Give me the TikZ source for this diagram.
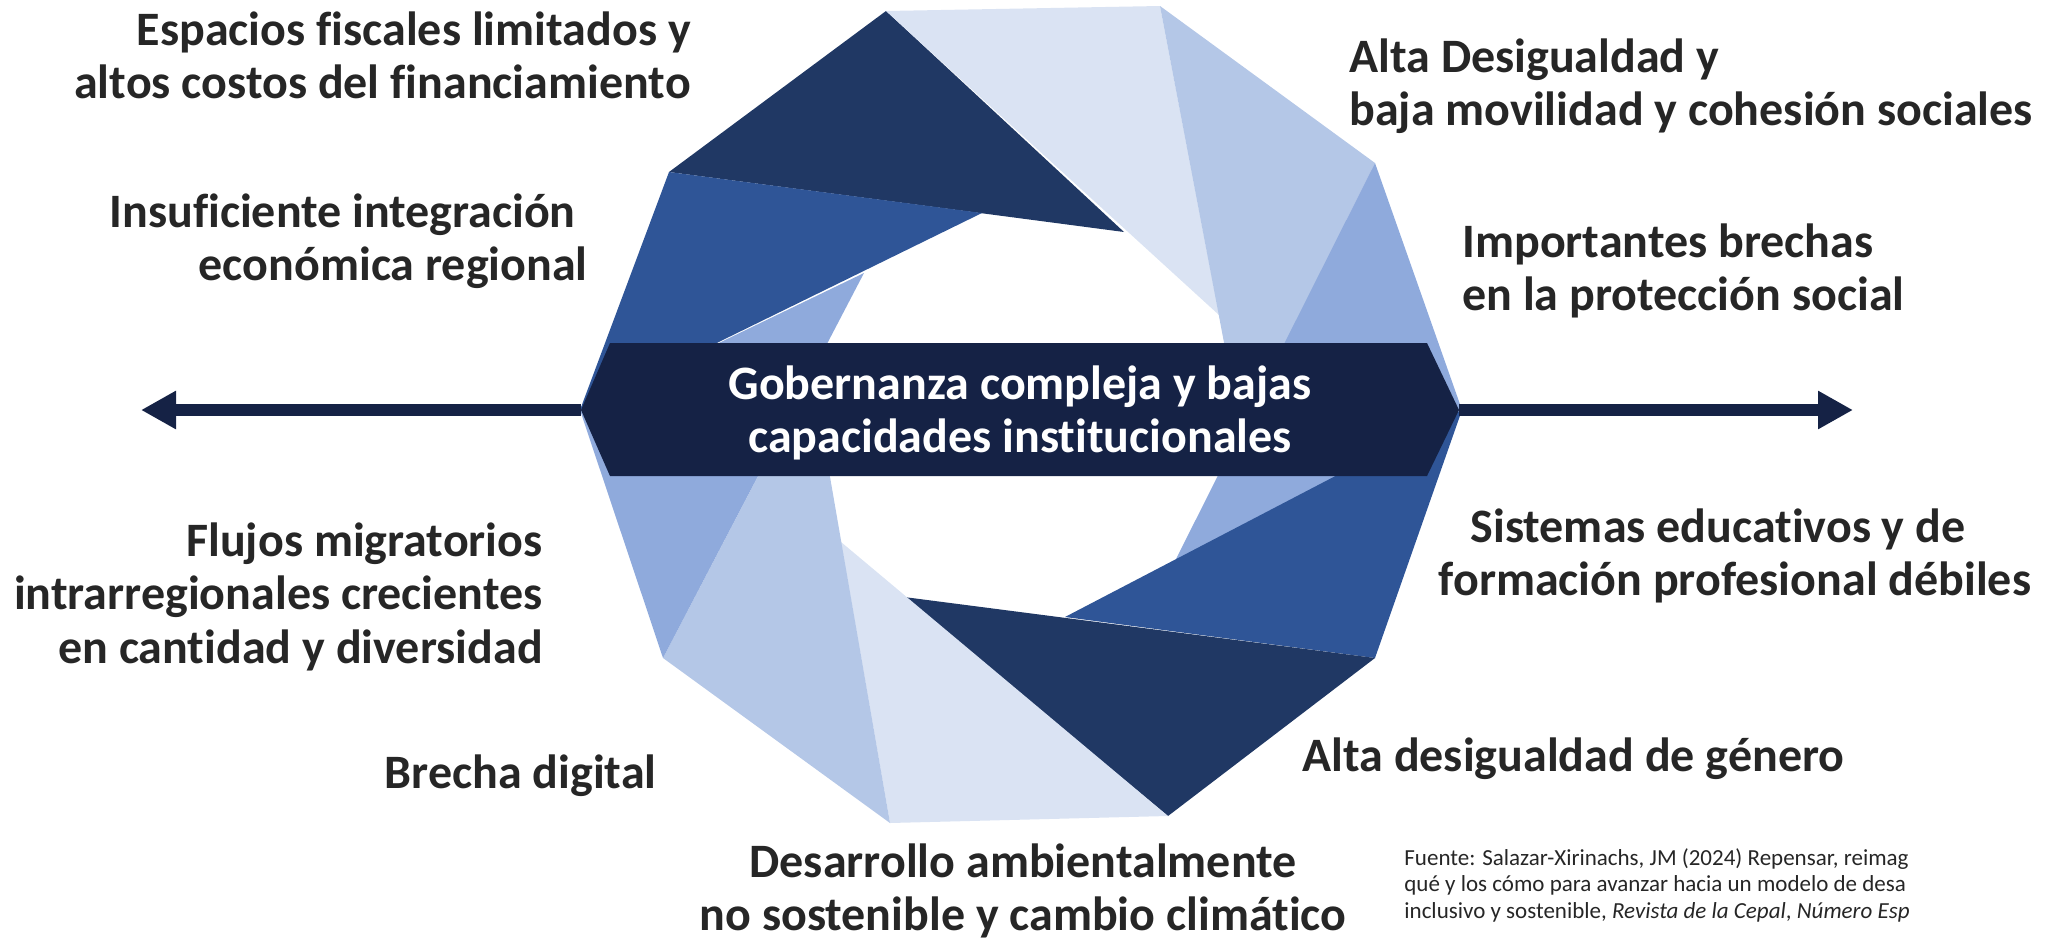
\documentclass[tikz,border=0pt]{standalone}
\usepackage{fontspec}
\setmainfont{Carlito}[Ligatures={CommonOff,ContextualOff}]
\usetikzlibrary{arrows.meta}

\definecolor{navy}{HTML}{152245}
\definecolor{bdark}{HTML}{203864}
\definecolor{bmid}{HTML}{2F5597}
\definecolor{bsoft}{HTML}{8FAADC}
\definecolor{bpale}{HTML}{B4C7E7}
\definecolor{bice}{HTML}{DAE3F3}
\definecolor{ink}{HTML}{262626}

\begin{document}
\begin{tikzpicture}[x=0.5pt,y=-0.5pt,>={Triangle[length=17.5pt,width=18pt]},
  lbl/.style={font=\fontsize{24}{26.75}\selectfont\bfseries,text=ink,inner sep=0pt},
  src/.style={font=\fontsize{11.5}{13.2}\selectfont,text=ink,inner sep=0pt,align=left}]
\clip (0,0) rectangle (2046,943);

% corners of the blades
\coordinate (A) at (886,11);   \coordinate (A2) at (1168,816);
\coordinate (B) at (669,172);  \coordinate (B2) at (1375,658);
\coordinate (D) at (1124,232); \coordinate (D2) at (904,597);
\coordinate (E) at (1160,6);   \coordinate (E2) at (890,823);
\coordinate (F) at (1219,315); \coordinate (F2) at (841,542);
\coordinate (G) at (1375,163); \coordinate (G2) at (663,658);
\coordinate (Z) at (1241,432); \coordinate (Z2) at (812,373);
\coordinate (P) at (1174,563); \coordinate (P2) at (864,273);
\coordinate (R) at (1462,410); \coordinate (L) at (580,410);
\coordinate (K) at (1065,617); \coordinate (Q) at (982,213);

\foreach \c/\p/\q/\r in {bdark/A/B/D, bice/A/E/F, bpale/E/G/Z, bsoft/G/R/P, bmid/R/B2/K,
    bdark/B2/A2/D2, bice/A2/E2/F2, bpale/E2/G2/Z2, bsoft/G2/L/P2, bmid/L/B/Q}
{
   \fill[\c] (\p) -- (\q) -- (\r) -- cycle;
}

% arrows and banner
\coordinate (tipL) at (581,410);
\coordinate (tipR) at (1459,410);
\coordinate (endL) at (141,410);
\coordinate (endR) at (1853,410);
\draw[->,navy,line width=6pt] (tipL) -- (endL);
\draw[->,navy,line width=6pt] (tipR) -- (endR);
\fill[navy] (610,343) -- (1427,343) -- (tipR) -- (1427,476) -- (610,476) -- (tipL) -- cycle;
\node[lbl,text=white,align=center] (gov) at (1020,413) {Gobernanza compleja y bajas\\capacidades institucionales};

% labels
\node[lbl,align=right,anchor=north east] (fisc) at (691,11) {Espacios fiscales limitados y\\altos costos del financiamiento};
\node[lbl,align=right,anchor=north east] (integ) at (588,193) {Insuficiente integración\hspace*{6pt}\\económica regional};
\node[lbl,align=left,anchor=north west] (desig) at (1349,38) {Alta Desigualdad y\\baja movilidad y cohesión sociales};
\node[lbl,align=left,anchor=north west] (prot) at (1462,223) {Importantes brechas\\en la protección social};
\node[lbl,align=right,anchor=north east] (migr) at (543,522) {Flujos migratorios\\intrarregionales crecientes\\en cantidad y diversidad};
\node[lbl,anchor=base east] (digi) at (657,788) {Brecha digital};
\node[lbl,align=center,anchor=north] (educ) at (1735,508) {Sistemas educativos y de\hspace*{17pt}\\formación profesional débiles};
\node[lbl,anchor=base west] (gen) at (1302,771) {Alta desigualdad de género};
\node[lbl,align=center,anchor=north] (amb) at (1023,843) {Desarrollo ambientalmente\\no sostenible y cambio climático};
\node[src,anchor=north west] (fuente) at (1404,848) {Fuente: Salazar-Xirinachs, JM (2024) Repensar, reimag\\qué y los cómo para avanzar hacia un modelo de desa\\inclusivo y sostenible, \textit{Revista de la Cepal}, \textit{Número Esp}};
\end{tikzpicture}
\end{document}
